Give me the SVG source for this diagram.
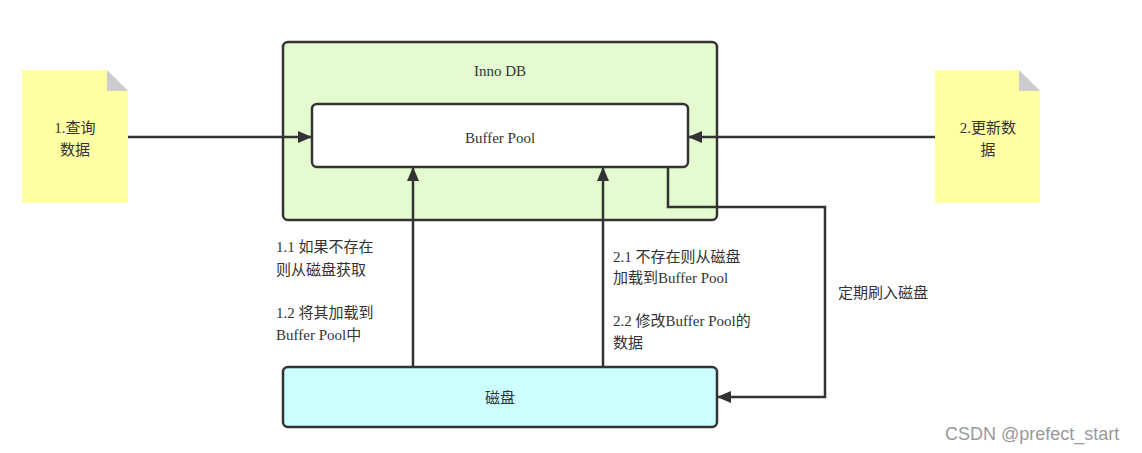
<svg xmlns="http://www.w3.org/2000/svg" width="1142" height="453" viewBox="0 0 1142 453">
<style>
text{font-family:"Liberation Serif","Noto Sans CJK SC",serif;font-size:15px;fill:#333}
.ln{stroke:#333;stroke-width:2.5;fill:none}
.note{fill:#ffff99;fill-opacity:0.9}
.fold{fill:#cccccc}
</style>
<defs>
<marker id="ah" markerWidth="14" markerHeight="14" refX="13" refY="7" orient="auto" markerUnits="userSpaceOnUse" viewBox="0 0 14 14"><path d="M0,1 L14,7 L0,13 Z" fill="#333"/></marker>
</defs>
<rect width="1142" height="453" fill="#fff"/>
<g id="note1">
<path class="note" d="M22,70 H107 L128,91 V203 H22 Z"/>
<path class="fold" d="M107,70 L128,91 H107 Z"/>
<text x="75" y="133" text-anchor="middle">1.查询</text>
<text x="75" y="155" text-anchor="middle">数据</text>
</g>
<g id="note2">
<path class="note" d="M935,70 H1019 L1040,91 V203 H935 Z"/>
<path class="fold" d="M1019,70 L1040,91 H1019 Z"/>
<text x="988" y="133" text-anchor="middle">2.更新数</text>
<text x="988" y="155" text-anchor="middle">据</text>
</g>
<g id="innodb">
<rect x="283" y="42" width="434" height="178" rx="5" fill="#e3fbcf" stroke="#333" stroke-width="2.5"/>
<text x="500" y="76" text-anchor="middle">Inno DB</text>
</g>
<g id="bufferpool">
<rect x="312" y="104" width="376" height="63" rx="5" fill="#fff" stroke="#333" stroke-width="2.5"/>
<text x="500" y="143" text-anchor="middle">Buffer Pool</text>
</g>
<g id="disk">
<rect x="283" y="367" width="434" height="60" rx="5" fill="#ccffff" stroke="#333" stroke-width="2.5"/>
<text x="500" y="403" text-anchor="middle">磁盘</text>
</g>
<g id="connectors">
<path class="ln" d="M128,137 H311" marker-end="url(#ah)"/>
<path class="ln" d="M935,137 H689" marker-end="url(#ah)"/>
<path class="ln" d="M413,367 V168" marker-end="url(#ah)"/>
<path class="ln" d="M603,367 V168" marker-end="url(#ah)"/>
<path class="ln" d="M668,167 V207 H825 V397 H718" marker-end="url(#ah)"/>
</g>
<g id="labels">
<text x="276" y="252">1.1 如果不存在</text>
<text x="276" y="275">则从磁盘获取</text>
<text x="276" y="318">1.2 将其加载到</text>
<text x="276" y="340">Buffer Pool中</text>
<text x="613" y="262">2.1 不存在则从磁盘</text>
<text x="613" y="283">加载到Buffer Pool</text>
<text x="613" y="326">2.2 修改Buffer Pool的</text>
<text x="613" y="348">数据</text>
<text x="838" y="298">定期刷入磁盘</text>
</g>
<text x="945" y="440" style="font-family:'Liberation Sans','Noto Sans CJK SC',sans-serif;font-size:18px;fill:#999">CSDN @prefect_start</text>
</svg>
